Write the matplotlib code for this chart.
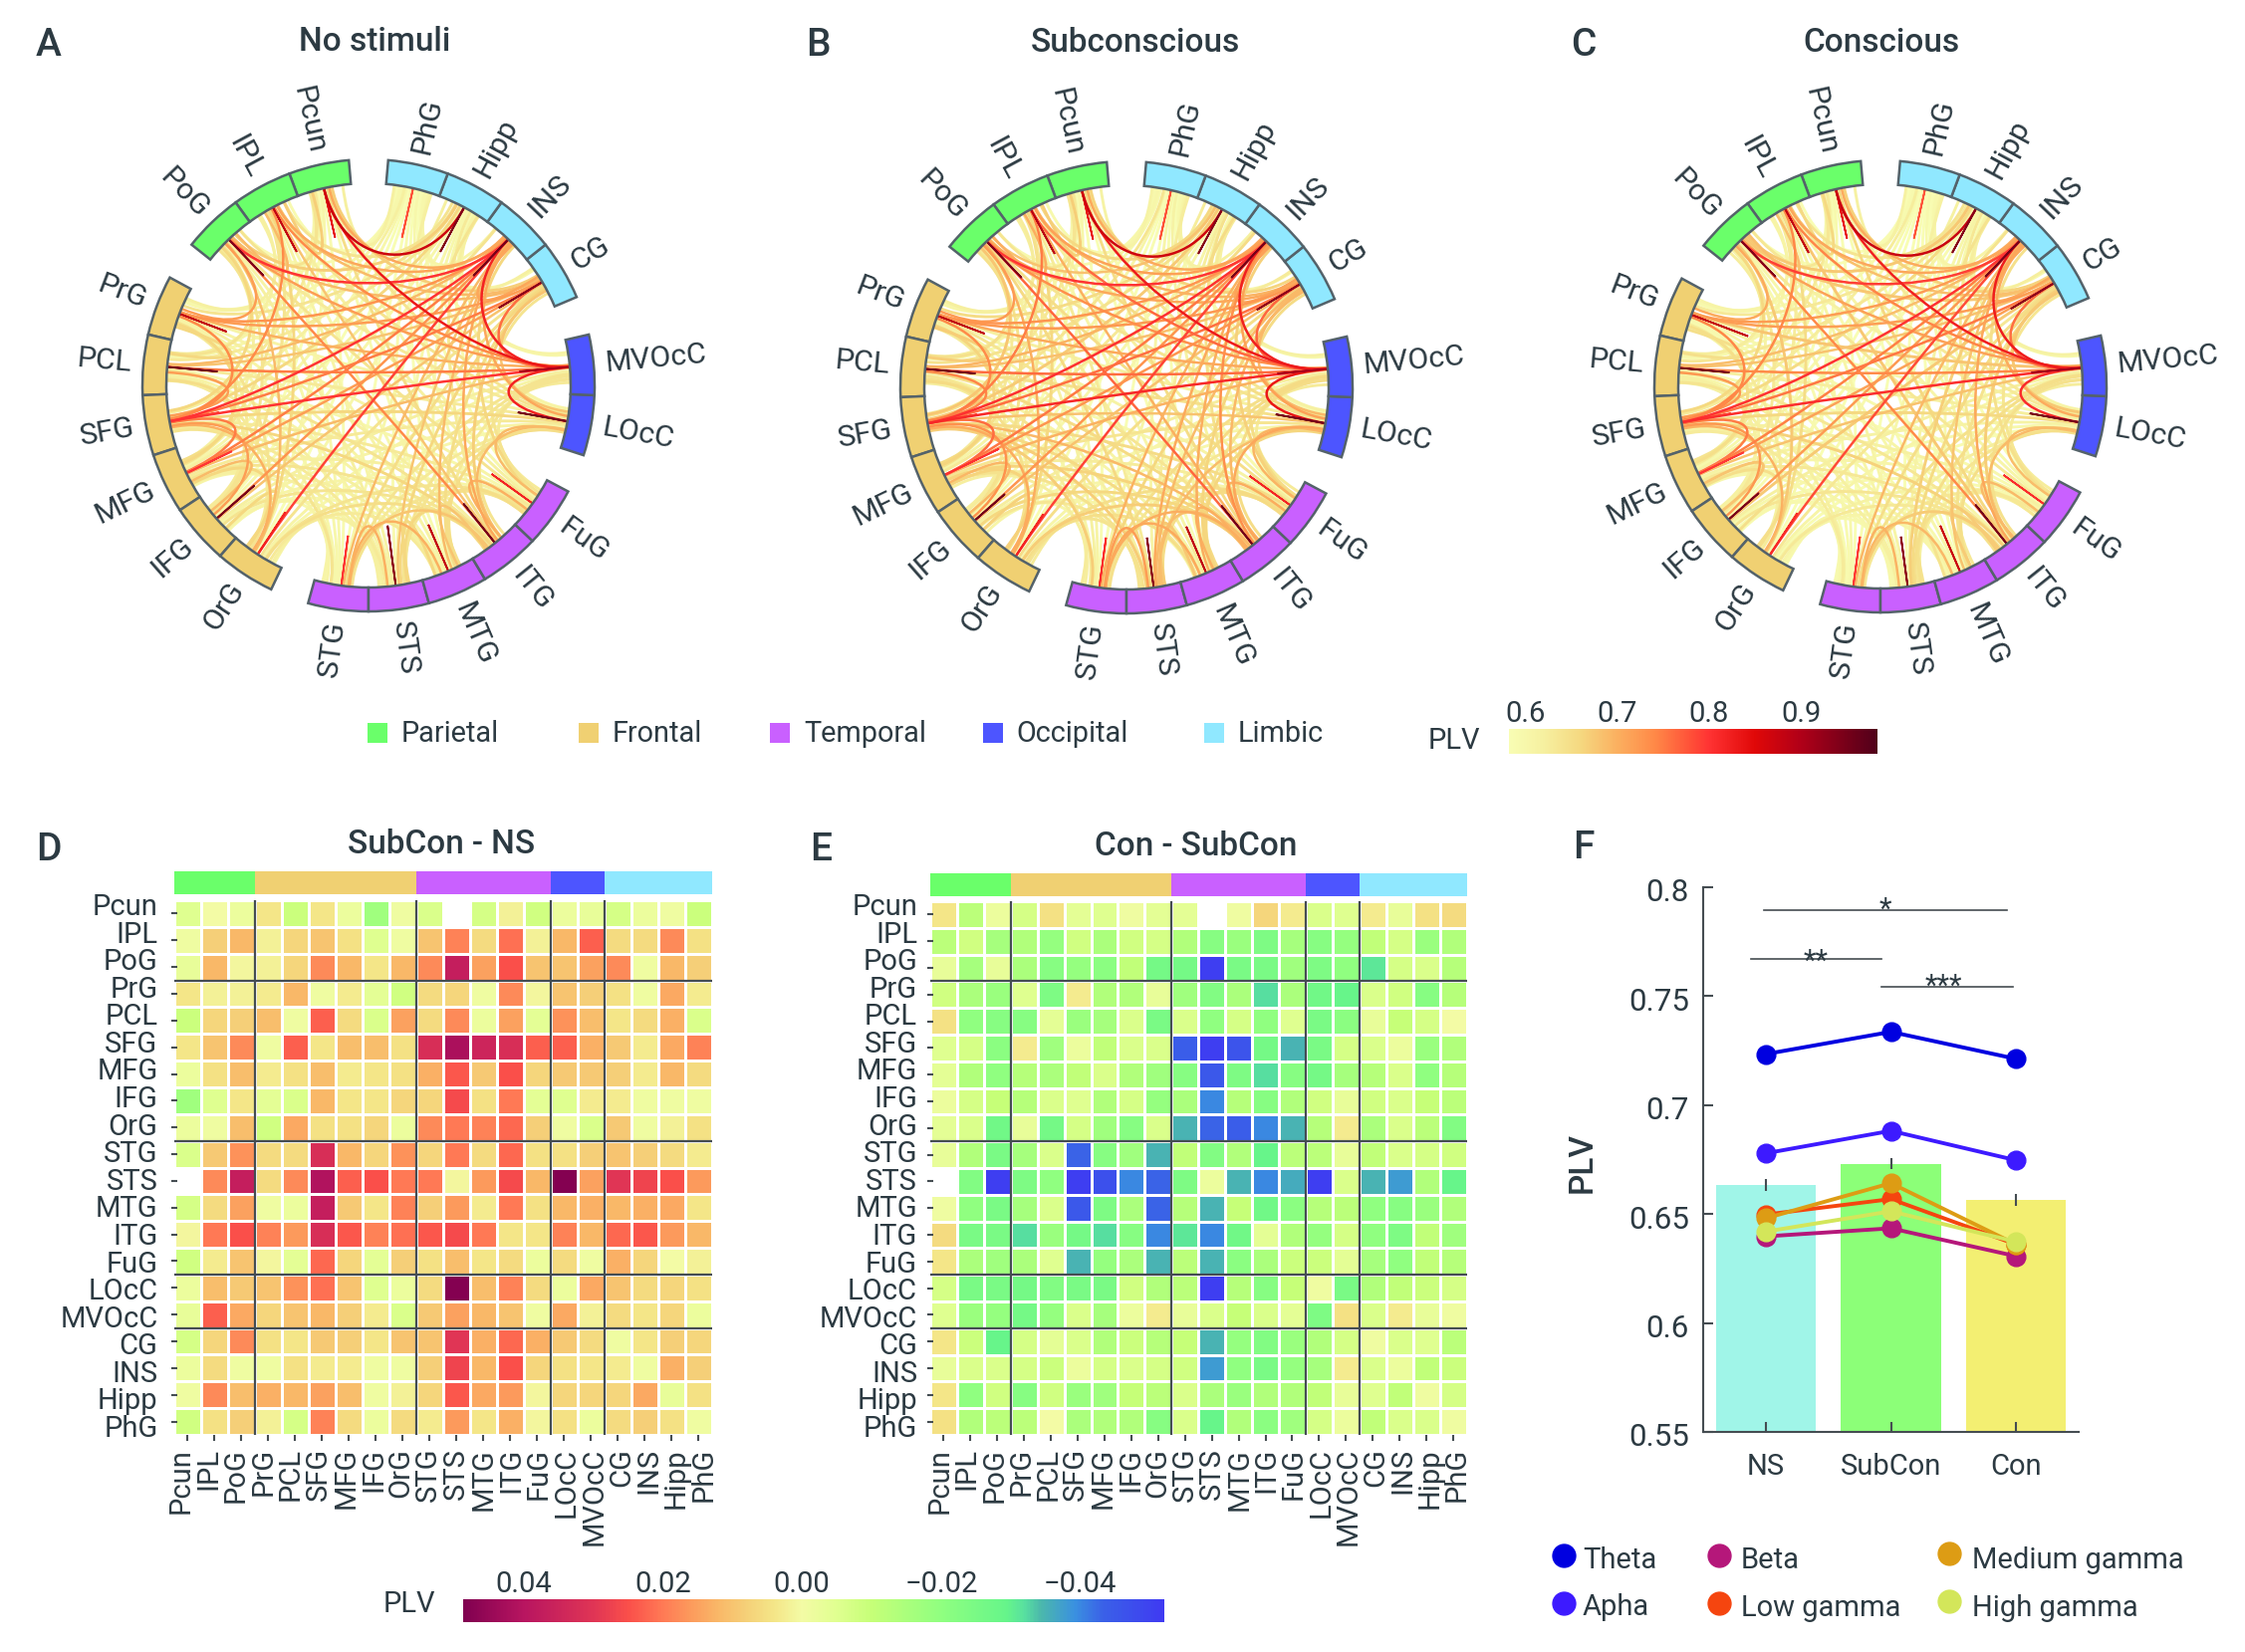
import numpy as np
import matplotlib

matplotlib.use("Agg")

import matplotlib.pyplot as plt
from matplotlib.cm import ScalarMappable
from matplotlib.colors import LinearSegmentedColormap, Normalize
from matplotlib.patches import PathPatch, Rectangle, Wedge
from matplotlib.path import Path
from matplotlib.transforms import ScaledTranslation

W, H = 2254, 1659
TEXT = "#2c3a42"
LINE = "#454d52"
plt.rcParams["font.family"] = ["Roboto", "DejaVu Sans"]

regions = ["Pcun", "IPL", "PoG", "PrG", "PCL", "SFG", "MFG", "IFG", "OrG", "STG",
           "STS", "MTG", "ITG", "FuG", "LOcC", "MVOcC", "CG", "INS", "Hipp", "PhG"]
group_names = ["Parietal", "Frontal", "Temporal", "Occipital", "Limbic"]
group_sizes = [3, 6, 5, 2, 4]
group_colors = ["#6aff6a", "#f0d072", "#c960ff", "#4d55ff", "#90e8ff"]

nan = np.nan
# No-stimuli PLV, upper triangle with diagonal, in units of 0.01
plv_ns_rows = [
    [84, 67, 64, 60, 61, 63, 61, 58, 60, 59, nan, 59, 65, 60, 64, 83, 67, 71, 87, 62],
    [88, 69, 62, 62, 74, 64, 64, 66, 60, 61, 60, 68, 62, 64, 74, 69, 71, 64, 59],
    [94, 72, 64, 66, 62, 64, 69, 60, 62, 61, 74, 64, 63, 72, 69, 80, 67, 59],
    [88, 66, 74, 66, 63, 64, 60, 61, 61, 62, 61, 61, 70, 72, 73, 64, 60],
    [95, 72, 65, 63, 63, 62, 62, 61, 64, 60, 63, 75, 68, 69, 63, 60],
    [77, 75, 72, 70, 64, 63, 62, 66, 63, 66, 80, 75, 80, 66, 62],
    [80, 69, 66, 61, 62, 62, 64, 62, 63, 69, 72, 75, 62, 60],
    [95, 66, 60, 61, 60, 64, 61, 61, 62, 68, 73, 60, 58],
    [82, 61, 62, 63, 65, 64, 60, 61, 64, 79, 60, 58],
    [80, 70, 70, 68, 64, 63, 64, 65, 69, 60, 58],
    [93, 66, 66, 64, 64, 64, 66, 68, 60, 59],
    [88, 68, 65, 65, 63, 65, 69, 60, 58],
    [95, 70, 69, 64, 67, 71, 63, 60],
    [82, 69, 63, 64, 66, 59, 58],
    [95, 82, 68, 71, 61, 59],
    [90, 76, 82, 61, 60],
    [93, 71, 62, 60],
    [95, 64, 61],
    [94, 62],
    [78],
]

# SubCon - NS, units of 0.001
diff_sub_ns = [
    [-5, 0, -2, 4, -9, 4, -2, -17, -1, -6, nan, -7, 2, -8, -2, -3, -7, -2, -1, -9],
    [-1, 8, 12, 2, 7, 10, 5, -5, -1, 10, 19, 6, 21, 2, 12, 23, 6, 6, 18, 5],
    [-3, 12, 1, 2, 7, 18, 12, 4, 12, 18, 37, 15, 25, 10, 10, 15, 18, -1, 12, 8],
    [4, 2, 2, 3, 12, -1, 3, -4, -8, 6, 7, -1, 18, 1, 10, 8, 5, -1, 14, 3],
    [-9, 7, 8, 11, -1, 23, 6, -6, 15, 6, 18, -2, 15, -4, 17, 11, 4, 6, 13, -6],
    [4, 10, 18, -1, 23, 4, 11, 11, 5, 32, 42, 35, 32, 23, 23, 13, 9, 3, 14, 19],
    [-2, 5, 11, 3, 5, 11, 3, 4, 5, 13, 24, 9, 25, 7, 9, 9, 8, 3, 12, 6],
    [-17, -5, 4, -4, -6, 12, 4, 4, 7, 7, 26, 5, 20, -4, -5, 3, 3, -1, -1, -1],
    [-2, -1, 11, -8, 14, 5, 5, 7, -2, 18, 20, 19, 22, 8, -1, -6, 9, -1, 2, 5],
    [-6, 9, 17, 6, 6, 32, 12, 7, 17, 7, 20, 6, 22, 5, 5, 8, 10, 8, 6, 3],
    [nan, 18, 37, 6, 18, 41, 23, 25, 20, 20, 1, 16, 26, 12, 48, 15, 30, 27, 25, 16],
    [-7, 6, 15, -1, -2, 37, 9, 4, 19, 8, 16, 3, 20, 5, 12, 13, 12, 13, 14, 4],
    [1, 20, 25, 19, 16, 32, 24, 19, 21, 24, 26, 20, 4, 4, 19, 12, 22, 24, 16, 12],
    [-8, 3, 10, 1, -4, 22, 7, -4, 8, 5, 11, 4, 6, -2, 6, -1, 13, 7, 0, 2],
    [-2, 11, 9, 10, 17, 21, 10, -5, -2, 6, 48, 11, 19, 6, -2, 14, 10, 6, 7, 5],
    [-3, 23, 14, 7, 10, 12, 8, 3, -6, 9, 15, 12, 10, -1, 14, 2, 6, 4, 7, -2],
    [-7, 7, 18, 5, 4, 9, 8, 4, 10, 10, 30, 13, 22, 13, 9, 6, -1, 4, 8, 7],
    [-2, 6, -1, -1, 5, 3, 3, -1, -1, 8, 27, 12, 25, 7, 5, 4, 3, -1, 13, 8],
    [-1, 18, 11, 13, 12, 15, 11, -1, 2, 7, 24, 14, 16, 1, 7, 7, 7, 14, -3, 5],
    [-8, 5, 8, 2, -7, 19, 6, -2, 6, 3, 16, 4, 13, 1, 5, -2, 6, 8, 5, -1],
]

# Con - SubCon, units of 0.001
diff_con_sub = [
    [4, -12, -2, -7, 5, -4, -5, -1, -4, -4, nan, -1, 7, 3, -6, -5, 3, -3, 5, 6],
    [-12, -8, -16, -14, -19, -8, -15, -8, -7, -14, -22, -18, -24, -16, -22, -19, -11, -7, -18, -14],
    [-3, -16, -3, -15, -22, -19, -21, -11, -26, -26, -51, -25, -25, -17, -24, -20, -31, -7, -6, -13],
    [-8, -15, -18, -5, -24, 3, -14, -14, -3, -17, -23, -15, -32, -15, -27, -29, -6, -8, -22, -13],
    [5, -20, -22, -22, -4, -18, -16, -6, -25, -6, -20, -7, -20, -5, -25, -21, -3, -10, -7, 0],
    [-5, -7, -21, 3, -17, -2, -11, -6, -6, -44, -51, -46, -26, -35, -25, -7, -6, -2, -18, -14],
    [-4, -14, -20, -13, -15, -11, -6, -14, -17, -22, -45, -24, -32, -22, -26, -16, -13, -6, -20, -13],
    [-2, -7, -10, -13, -6, -5, -14, -7, -19, -15, -40, -13, -22, -14, -8, -3, -8, -6, -10, -12],
    [-4, -6, -27, -3, -26, -7, -17, -22, -6, -35, -43, -44, -40, -35, -13, 3, -15, -6, -12, -23],
    [-3, -14, -25, -16, -6, -43, -22, -17, -35, -11, -23, -14, -29, -12, -12, -3, -11, -6, -7, -8],
    [nan, -23, -51, -24, -20, -51, -47, -40, -43, -24, -2, -35, -40, -36, -51, -6, -35, -38, -14, -29],
    [-1, -20, -25, -16, -6, -45, -24, -15, -43, -13, -35, -10, -27, -21, -13, -12, -20, -22, -18, -14],
    [6, -25, -25, -32, -18, -26, -32, -22, -40, -31, -40, -27, -4, -14, -19, -7, -20, -24, -11, -17],
    [4, -15, -17, -15, -5, -35, -19, -15, -35, -12, -35, -21, -15, -9, -9, -4, -16, -20, -11, -13],
    [-7, -25, -25, -26, -23, -25, -25, -8, -14, -12, -51, -13, -22, -10, -1, -25, -14, -11, -9, -7],
    [-5, -18, -19, -26, -19, -6, -16, -2, 3, -3, -6, -10, -6, -4, -24, 5, -6, 3, -3, -1],
    [4, -9, -29, -7, -4, -6, -14, -9, -13, -10, -35, -19, -23, -18, -14, -7, -1, -6, -5, -12],
    [-3, -6, -6, -7, -9, -2, -7, -6, -7, -8, -38, -20, -25, -19, -16, 3, -6, -2, -11, -9],
    [4, -20, -8, -22, -8, -18, -17, -10, -12, -6, -15, -18, -14, -14, -11, -3, -5, -11, -1, -7],
    [5, -14, -12, -12, 0, -15, -14, -14, -22, -6, -29, -14, -21, -17, -7, -2, -11, -6, -6, -1],
]

# colour stops
plv_range = (0.582, 0.983)
plv_stop_values = [0.582, 0.62, 0.66, 0.70, 0.74, 0.78, 0.80, 0.85, 0.90, 0.983]
plv_stop_colors = ["#f8fdb4", "#f6f0a0", "#f5d880", "#fbb060", "#ff8a48", "#ff5038",
                   "#ff3333", "#e00808", "#b00018", "#50001a"]
diff_range = (-0.052, 0.0487)
diff_stop_values = [-0.052, -0.0434, -0.0393, -0.0344, -0.032, -0.0294, -0.02, -0.01, -0.005, 0.0,
                    0.004, 0.008, 0.012, 0.016, 0.02, 0.025, 0.03, 0.04, 0.0487]
diff_stop_colors = ["#3f3af2", "#3a60e8", "#3a90e0", "#4bb8ac", "#58e0a0", "#66f58a", "#90ff80",
                    "#c6ff78", "#e0ff90", "#f3fba5", "#f4e688", "#f5d078", "#f9b868", "#fc9a5c",
                    "#ff7a55", "#fa4f4a", "#e03555", "#b81560", "#800050"]

conditions = ["NS", "SubCon", "Con"]
bar_heights = [0.6634, 0.6729, 0.6563]
bar_errors = [0.0027, 0.0025, 0.0027]
bar_colors = ["#a0f5e8", "#8cff78", "#f3ef72"]
band_names = ["Theta", "Apha", "Beta", "Low gamma", "Medium gamma", "High gamma"]
band_colors = ["#0000e0", "#3d1aff", "#b5177a", "#f5450f", "#dd9c14", "#d3e65a"]
theta = [0.7233, 0.7335, 0.7211]
alpha = [0.6778, 0.6881, 0.6746]
beta = [0.6397, 0.6434, 0.6306]
low_gamma = [0.6497, 0.6568, 0.6360]
medium_gamma = [0.6480, 0.6641, 0.6360]
high_gamma = [0.6419, 0.6512, 0.6372]
plv_ticks = [0.55, 0.6, 0.65, 0.7, 0.75, 0.8]
plv_tick_labels = ["0.55", "0.6", "0.65", "0.7", "0.75", "0.8"]


def stops_cmap(values, colors, limits):
    lo, hi = limits
    return LinearSegmentedColormap.from_list("", [((v - lo) / (hi - lo), c) for v, c in zip(values, colors)], N=512)


plv_cmap = stops_cmap(plv_stop_values, plv_stop_colors, plv_range)
diff_cmap = stops_cmap(diff_stop_values, diff_stop_colors, diff_range)
plv_norm = Normalize(*plv_range)
diff_norm = Normalize(*diff_range)

fig = plt.figure(figsize=(W / 100, H / 100), dpi=100)


def px_axes(x0, y0, x1, y1, **kw):
    return fig.add_axes([x0 / W, 1 - y1 / H, (x1 - x0) / W, (y1 - y0) / H], **kw)


page = px_axes(0, 0, W, H)
page.set_xlim(0, W)
page.set_ylim(H, 0)
page.axis("off")


def label(x, y, s, size=21, ha="left", va="center", **kw):
    page.text(x, y, s, fontsize=size, ha=ha, va=va, color=TEXT, **kw)


plv_ns = np.full((20, 20), nan)
for i, row in enumerate(plv_ns_rows):
    plv_ns[i, i:] = np.array(row) / 100
plv_sub = plv_ns + np.array(diff_sub_ns) / 1000
plv_con = plv_sub + np.array(diff_con_sub) / 1000

NODE = 15.5
GAP = 10.0
R_OUT, R_IN = 227.0, 203.0


def region_spans():
    spans = []
    start = 95.0
    k = 0
    for size in group_sizes:
        for _ in range(size):
            spans.append(start + k * NODE)
            k += 1
        start += GAP
    return spans


def chord(ax, a0, a1, value, lw):
    u0 = np.array([np.cos(np.radians(a0)), np.sin(np.radians(a0))])
    u1 = np.array([np.cos(np.radians(a1)), np.sin(np.radians(a1))])
    verts = [R_IN * u0, 0.6 * R_IN * u0, 0.6 * R_IN * u1, R_IN * u1]
    codes = [Path.MOVETO, Path.CURVE4, Path.CURVE4, Path.CURVE4]
    ax.add_patch(PathPatch(Path(verts, codes), fc="none", ec=plv_cmap(plv_norm(value)), lw=lw, capstyle="butt"))


def draw_circle(cx, cy, matrix):
    ax = px_axes(cx - 300, cy - 300, cx + 300, cy + 300)
    ax.set_xlim(-300, 300)
    ax.set_ylim(-300, 300)
    ax.axis("off")
    starts = region_spans()
    mids = [s + NODE / 2 for s in starts]
    edges = []
    for i in range(20):
        for j in range(i, 20):
            if not np.isnan(matrix[i, j]):
                edges.append((matrix[i, j], i, j))
    edges.sort()
    for value, i, j in edges:
        if i == j:
            chord(ax, mids[i], mids[j], value, 1.3)
            continue
        # weak links fan out over the node, strong ones meet at its middle
        fan = 6.0 * np.clip((0.76 - value) / 0.14, 0, 1)
        off_i = -fan * (((j - i) % 20) - 10) / 10
        off_j = -fan * (((i - j) % 20) - 10) / 10
        chord(ax, mids[i] + off_i, mids[j] + off_j, value, 2.1 if value < 0.68 else 1.8)

    colors = np.repeat(group_colors, group_sizes)
    for s, name, color, mid in zip(starts, regions, colors, mids):
        ax.add_patch(Wedge((0, 0), R_OUT, s, s + NODE, width=R_OUT - R_IN, fc=color, ec="#54626a", lw=1.8))
        rad = np.radians(mid)
        right = np.cos(rad) > 0
        ax.text((R_OUT + 12) * np.cos(rad), (R_OUT + 12) * np.sin(rad), name, fontsize=21.8, color=TEXT,
                rotation=mid if right else mid - 180, rotation_mode="anchor",
                ha="left" if right else "right", va="center", clip_on=False)


draw_circle(370, 387, plv_ns)
draw_circle(1131, 389, plv_sub)
draw_circle(1888, 388, plv_con)

for letter, x, y in [("A", 36, 45), ("B", 809, 45), ("C", 1577, 45), ("D", 36, 853), ("E", 813, 853), ("F", 1579, 852)]:
    label(x, y, letter, size=28, weight="medium")
for title, x, y in [("No stimuli", 376, 42), ("Subconscious", 1140, 43), ("Conscious", 1889, 43),
                    ("SubCon - NS", 443, 848), ("Con - SubCon", 1201, 850)]:
    label(x, y, title, size=24, ha="center", weight="medium")

for name, color, x0, x1 in zip(group_names, group_colors, [369, 581, 773, 987, 1209], [403, 615, 807, 1020, 1243]):
    page.add_patch(Rectangle((x0, 726), 19.5, 19.5, fc=color, ec="none"))
    label(x1, 737, name, size=20.8)


def draw_heatmap(x0, x1, y0, y1, strip_y0, strip_y1, rows, lab_x0, lab_x1, lab_right):
    ax = px_axes(x0, y0, x1, y1)
    values = np.array(rows) / 1000
    cmap = diff_cmap.copy()
    cmap.set_bad("white")
    ax.pcolormesh(np.ma.masked_invalid(values), cmap=cmap, norm=diff_norm, edgecolors="white", linewidth=1.9)
    ax.set_xlim(0, 20)
    ax.set_ylim(20, 0)
    for side in ax.spines.values():
        side.set_visible(False)
    ax.set_xticks(np.arange(20) + 0.5, [])
    ax.set_yticks(np.arange(20) + 0.5, [])
    ax.tick_params(length=5, width=1.5, color=LINE, direction="inout")
    ax.tick_params(axis="x", direction="out", length=4)
    for edge in np.cumsum(group_sizes)[:-1]:
        ax.axvline(edge, color=LINE, lw=1.6)
        ax.axhline(edge, color=LINE, lw=1.6)

    strip = px_axes(x0, strip_y0, x1, strip_y1)
    strip.barh(0, group_sizes, 1, left=np.cumsum([0] + group_sizes[:-1]), color=group_colors, align="edge")
    strip.set_xlim(0, 20)
    strip.set_ylim(0, 1)
    strip.axis("off")

    # the tick labels are spread a little wider than the cells
    for k, name in enumerate(regions):
        label(lab_right, 911 + k * (1435 - 911) / 19, name, ha="right")
        label(lab_x0 + k * (lab_x1 - lab_x0) / 19, 1454, name, ha="center", va="top", rotation=90)


draw_heatmap(174.5, 715, 904, 1441, 875, 898, diff_sub_ns, 181.5, 706.7, 158.5)
draw_heatmap(934, 1472.5, 905, 1441, 877, 899.5, diff_con_sub, 943.5, 1463, 921)


def draw_colorbar(x0, y0, x1, y1, cmap, norm, ticks, names):
    cax = px_axes(x0, y0, x1, y1)
    bar = fig.colorbar(ScalarMappable(norm=norm, cmap=cmap), cax=cax, orientation="horizontal")
    bar.outline.set_visible(False)
    bar.set_ticks(ticks, labels=names)
    cax.xaxis.set_ticks_position("top")
    cax.tick_params(length=0, pad=1, labelsize=21, labelcolor=TEXT)
    return cax


draw_colorbar(1514.5, 732, 1885, 757, plv_cmap, plv_norm, [0.6, 0.7, 0.8, 0.9], ["0.6", "0.7", "0.8", "0.9"])
label(1434, 744, "PLV")
cb = draw_colorbar(465, 1606, 1168.5, 1629, diff_cmap, diff_norm, [0.04, 0.02, 0.0, -0.02, -0.04],
                   ["0.04", "0.02", "0.00", "\u22120.02", "\u22120.04"])
cb.invert_xaxis()
label(385, 1611, "PLV")

# panel F
ax = px_axes(1710, 890.6, 2087, 1438)
ax.bar(range(3), bar_heights, width=0.8, color=bar_colors, zorder=1)
ax.errorbar(range(3), bar_heights, yerr=bar_errors, fmt="none", ecolor=LINE, elinewidth=1.5, zorder=2)
for series, color in zip([theta, alpha, beta, low_gamma, medium_gamma, high_gamma], band_colors):
    ax.plot(range(3), series, "-o", color=color, lw=2.8, ms=13.5, mec=color, zorder=3)
ax.plot([-0.018, 1.928], [0.7893, 0.7893], color=LINE, lw=1.2)
ax.plot([-0.116, 0.924], [0.767, 0.767], color=LINE, lw=1.2)
ax.plot([0.924, 1.971], [0.7543, 0.7543], color=LINE, lw=1.2)
ax.text(0.955, 0.7895, "*", ha="center", va="center", fontsize=21, color=TEXT)
ax.text(0.40, 0.7655, "**", ha="center", va="center", fontsize=21, color=TEXT)
ax.text(1.42, 0.7545, "***", ha="center", va="center", fontsize=21, color=TEXT)
ax.set_xlim(-0.5, 2.5)
ax.set_ylim(0.55, 0.8)
ax.set_xticks(range(3), conditions)
ax.set_yticks(plv_ticks, plv_tick_labels)
ax.tick_params(direction="in", length=7, width=1.5, color=LINE, labelsize=22.5, labelcolor=TEXT, pad=10)
ax.tick_params(axis="x", labelsize=21, pad=15)
shift = ScaledTranslation(0, -3 / 100, fig.dpi_scale_trans)
for tick_label in ax.get_yticklabels():
    tick_label.set_transform(tick_label.get_transform() + shift)
for side in ["top", "right"]:
    ax.spines[side].set_visible(False)
for side in ["left", "bottom"]:
    ax.spines[side].set_color(LINE)
    ax.spines[side].set_linewidth(1.5)
label(1589, 1168, "PLV", size=24, ha="center", rotation=90, weight="medium")

legend_x = [1570, 1570, 1726, 1726, 1957, 1957]
legend_y = [1562, 1610, 1562, 1610, 1560, 1608]
legend_text_x = [1589, 1589, 1748, 1748, 1980, 1980]
legend_text_y = [1567, 1614, 1567, 1615, 1567, 1615]
for name, color, mx, my, tx, ty in zip(band_names, band_colors, legend_x, legend_y, legend_text_x, legend_text_y):
    page.plot([mx], [my], "o", color=color, ms=16.5, mec=color)
    label(tx, ty, name)

fig.savefig("out.png", dpi=100, facecolor="white")
